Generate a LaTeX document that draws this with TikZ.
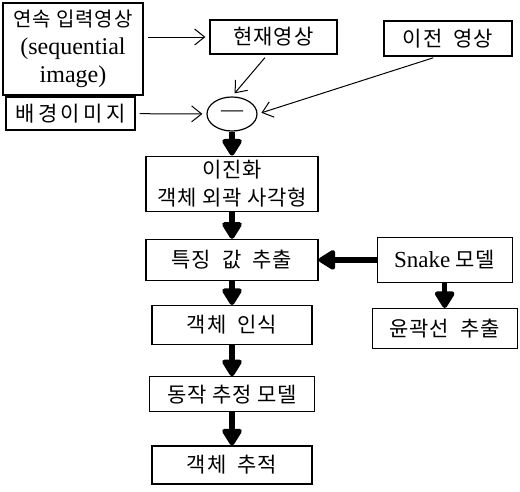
\documentclass[tikz,border=0pt]{standalone}
\usepackage{fontspec}
\setmainfont{Liberation Serif}
\newfontfamily\kr[LetterSpace=4]{Noto Sans CJK KR}
\usetikzlibrary{arrows.meta, positioning, shapes.geometric}

\begin{document}
\begin{tikzpicture}[
    x=1pt, y=-1pt,
    node distance=24pt and 60pt,
    box/.style={draw, line width=1.2pt, inner sep=1pt, align=center,
                font=\kr\fontsize{21}{28}\selectfont},
    thin arrow/.style={-{Straight Barb[length=10pt,width=16pt]}, line width=1pt,
                       shorten <=4pt, shorten >=4pt},
    heavy arrow/.style={-{Triangle[width=22pt,length=19pt,round]}, line width=5.5pt}
  ]
    \useasboundingbox (0,0) rectangle (520,491);

    % inputs
    \node[box, minimum width=140pt, minimum height=92pt] (seq) at (73,49)
          {{\fontsize{20}{28}\selectfont 연속 입력영상}\\{\rmfamily\fontsize{24}{28}\selectfont (sequential}\\{\rmfamily\fontsize{24}{28}\selectfont image)}};
    \node[box, minimum width=127pt, minimum height=34pt] (cur)  at (273.5,37)  {현재영상};
    \node[box, minimum width=128pt, minimum height=35pt] (prev) at (448,38.5)  {이전\ \ 영상};
    \node[box, minimum width=129pt, minimum height=33pt] (bg)   at (70.5,113.5)
          {배\,경\,이\,미\,지};
    \node[draw, line width=1.2pt, ellipse, minimum width=50pt, minimum height=34pt,
          inner sep=0pt, font=\rmfamily\fontsize{22}{22}\selectfont] (circ) at (232,114) {—};

    % main column
    \node[box, below=24pt of circ, minimum width=172pt, minimum height=55pt] (bin)
          {이진화\\객체 외곽 사각형};
    \node[box, below=27pt of bin,  minimum width=172pt, minimum height=41pt] (feat) {특징\ \ 값\ \ 추출};
    \node[box, below=24pt of feat, minimum width=160pt, minimum height=39pt] (rec)  {객체\ \ 인식};
    \node[box, below=31pt of rec,  minimum width=165pt, minimum height=35pt] (act)  {동작\ 추정\ 모델};
    \node[box, below=33pt of act,  minimum width=160pt, minimum height=38pt] (trk)  {객체\ \ 추적};

    % snake branch
    \node[box, right=58pt of feat, minimum width=135pt, minimum height=45pt] (snake)
          {{\rmfamily\fontsize{23}{28}\selectfont Snake}\ 모델};
    \node[box, below=25pt of snake, minimum width=145pt, minimum height=40pt] (cont) {윤곽선\ \ 추출};

    \draw[thin arrow] (seq.east |- cur) -- (cur);
    \draw[thin arrow] (bg) -- (circ);
    \draw[thin arrow] ([xshift=-6pt]cur.south) -- (circ.north);
    \draw[thin arrow] ([xshift=-11pt]prev.south) -- (circ.east);

    \draw[heavy arrow] (circ) -- (bin);
    \draw[heavy arrow] (bin) -- (feat);
    \draw[heavy arrow] (feat) -- (rec);
    \draw[heavy arrow] (rec) -- (act);
    \draw[heavy arrow] (act) -- (trk);
    \draw[heavy arrow] (snake) -- (feat);
    \draw[heavy arrow] (snake) -- (cont);
  \end{tikzpicture}
\end{document}
